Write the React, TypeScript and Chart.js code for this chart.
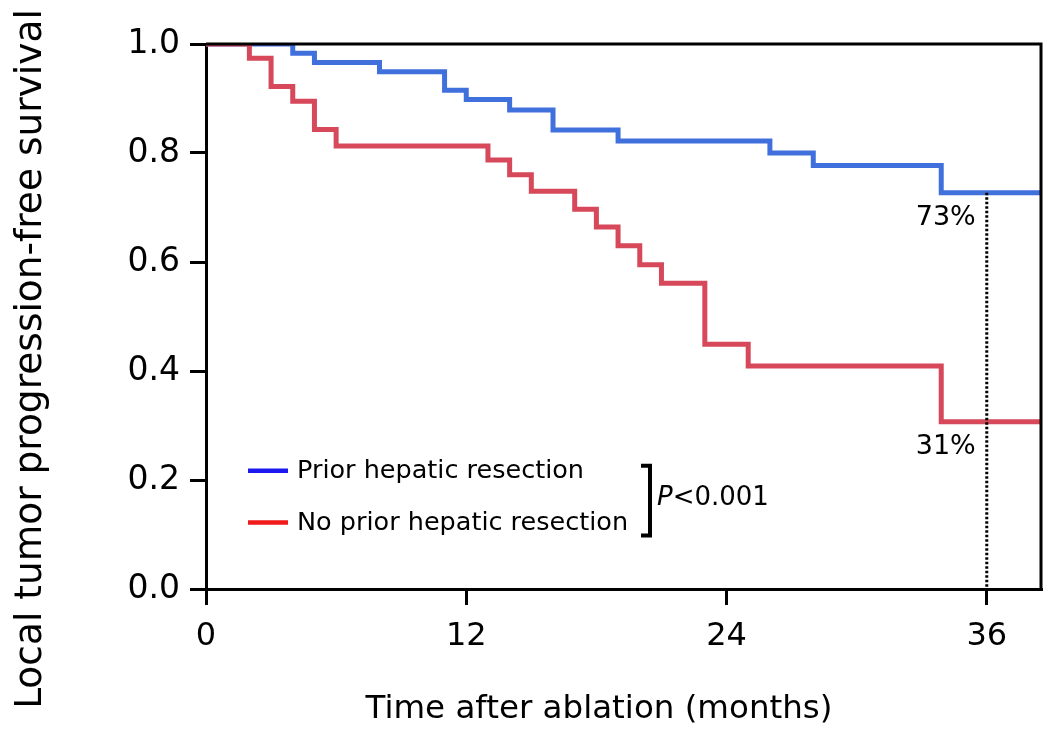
import React, { useEffect, useRef } from "react";
import { Chart, registerables } from "chart.js";

Chart.register(...registerables);

// Kaplan-Meier step data (months, survival)
const blueTimes = [0, 4, 5, 8, 11, 12, 14, 16, 19, 26, 28, 33.9, 38.5];
const blueSurv = [1.0, 0.983, 0.966, 0.949, 0.915, 0.898, 0.879, 0.842, 0.822, 0.8, 0.777, 0.727, 0.727];
const redTimes = [0, 2, 3, 4, 5, 6, 13, 14, 15, 17, 18, 19, 20, 21, 23, 25, 33.9, 38.5];
const redSurv = [1.0, 0.974, 0.922, 0.895, 0.843, 0.813, 0.787, 0.76, 0.73, 0.697, 0.664, 0.63, 0.595, 0.561, 0.449, 0.409, 0.307, 0.307];

const xTicks = [0, 12, 24, 36];
const legendLabels = ["Prior hepatic resection", "No prior hepatic resection"];
const markTime = 36;
const markLabels = ["73%", "31%"];
const markValues = [0.727, 0.307];
const pText = "<0.001";
const xTitle = "Time after ablation (months)";
const yTitle = "Local tumor progression-free survival";

const FONT = '"DejaVu Sans", "Noto Sans", sans-serif';
const BLUE = "#4070dc";
const RED = "#d6485a";

const overlay = {
  id: "overlay",
  afterDatasetsDraw(chart: any) {
    const { ctx, chartArea: a, scales } = chart;
    const xs = scales.x;
    const ys = scales.y;
    ctx.save();
    // top & right frame
    ctx.strokeStyle = "#000";
    ctx.lineWidth = 3;
    ctx.beginPath();
    ctx.moveTo(a.left, a.top);
    ctx.lineTo(a.right, a.top);
    ctx.lineTo(a.right, a.bottom);
    ctx.stroke();

    // dotted line at 36 months
    const mx = xs.getPixelForValue(markTime);
    ctx.setLineDash([2.5, 2]);
    ctx.lineWidth = 3;
    ctx.beginPath();
    ctx.moveTo(mx, ys.getPixelForValue(markValues[0]));
    ctx.lineTo(mx, a.bottom);
    ctx.stroke();
    ctx.setLineDash([]);

    // percent labels
    ctx.fillStyle = "#000";
    ctx.font = `27px ${FONT}`;
    ctx.textAlign = "right";
    ctx.textBaseline = "middle";
    markLabels.forEach((t, i) => {
      ctx.fillText(t, mx - 11, ys.getPixelForValue(markValues[i]) + 25);
    });

    // legend
    const lx0 = a.left + 42;
    const lx1 = a.left + 82;
    const ly = [ys.getPixelForValue(0.217), ys.getPixelForValue(0.122)];
    const lc = ["#1a1af0", "#f01a1a"];
    ctx.font = `25.5px ${FONT}`;
    ctx.textAlign = "left";
    legendLabels.forEach((t, i) => {
      ctx.strokeStyle = lc[i];
      ctx.lineWidth = 4.5;
      ctx.beginPath();
      ctx.moveTo(lx0, ly[i]);
      ctx.lineTo(lx1, ly[i]);
      ctx.stroke();
      ctx.fillStyle = "#000";
      ctx.fillText(t, lx1 + 9, ly[i] + 1);
    });

    // bracket
    const bx = a.left + 444;
    const bt = ly[0] - 5;
    const bb = ly[1] + 13;
    ctx.strokeStyle = "#000";
    ctx.lineWidth = 4;
    ctx.beginPath();
    ctx.moveTo(bx - 9, bt);
    ctx.lineTo(bx, bt);
    ctx.lineTo(bx, bb);
    ctx.lineTo(bx - 9, bb);
    ctx.stroke();

    // P value
    const py = (ly[0] + ly[1]) / 2 + 2;
    ctx.font = `italic 26px ${FONT}`;
    ctx.fillText("P", bx + 7, py);
    const pw = ctx.measureText("P").width;
    ctx.font = `26px ${FONT}`;
    ctx.fillText(pText, bx + 7 + pw, py);

    // axis titles
    ctx.font = `32.5px ${FONT}`;
    ctx.textAlign = "center";
    ctx.fillText(xTitle, 599, 710);
    ctx.save();
    ctx.translate(31, 359);
    ctx.rotate(-Math.PI / 2);
    ctx.font = `37.5px ${FONT}`;
    ctx.fillText(yTitle, 0, 0);
    ctx.restore();

    ctx.restore();
  },
};

export default function App() {
  const ref = useRef<HTMLCanvasElement>(null);
  useEffect(() => {
    if (!ref.current) return;
    const chart = new Chart(ref.current, {
      type: "line",
      data: {
        datasets: [
          {
            label: legendLabels[1],
            data: redTimes.map((t, i) => ({ x: t, y: redSurv[i] })),
            borderColor: RED,
            borderWidth: 5,
            stepped: true,
            pointRadius: 0,
            fill: false,
          },
          {
            label: legendLabels[0],
            data: blueTimes.map((t, i) => ({ x: t, y: blueSurv[i] })),
            borderColor: BLUE,
            borderWidth: 5,
            stepped: true,
            pointRadius: 0,
            fill: false,
          },
        ],
      },
      options: {
        animation: false,
        responsive: true,
        maintainAspectRatio: false,
        layout: { padding: { top: 44, right: 7, left: 0, bottom: 0 } },
        plugins: { legend: { display: false }, tooltip: { enabled: false } },
        scales: {
          x: {
            type: "linear",
            min: 0,
            max: 38.5,
            afterBuildTicks: (s: any) => {
              s.ticks = xTicks.map((v) => ({ value: v }));
            },
            afterFit: (s: any) => {
              s.height = 145;
            },
            grid: { drawOnChartArea: false, drawTicks: true, tickLength: 16, color: "#000", lineWidth: 3 },
            border: { display: true, color: "#000", width: 3 },
            ticks: { color: "#000", font: { family: FONT, size: 32 }, padding: 12, maxRotation: 0 },
          },
          y: {
            type: "linear",
            min: 0,
            max: 1,
            afterFit: (s: any) => {
              s.width = 206;
            },
            grid: { drawOnChartArea: false, drawTicks: true, tickLength: 16, color: "#000", lineWidth: 3 },
            border: { display: true, color: "#000", width: 3 },
            ticks: {
              stepSize: 0.2,
              color: "#000",
              font: { family: FONT, size: 33 },
              padding: 10,
              callback: (v: any) => Number(v).toFixed(1),
            },
          },
        },
      },
      plugins: [overlay],
    });
    return () => chart.destroy();
  }, []);
  return (
    <div style={{ position: "absolute", left: 0, top: 0, width: 1048, height: 734, background: "#fff" }}>
      <canvas ref={ref} />
    </div>
  );
}
